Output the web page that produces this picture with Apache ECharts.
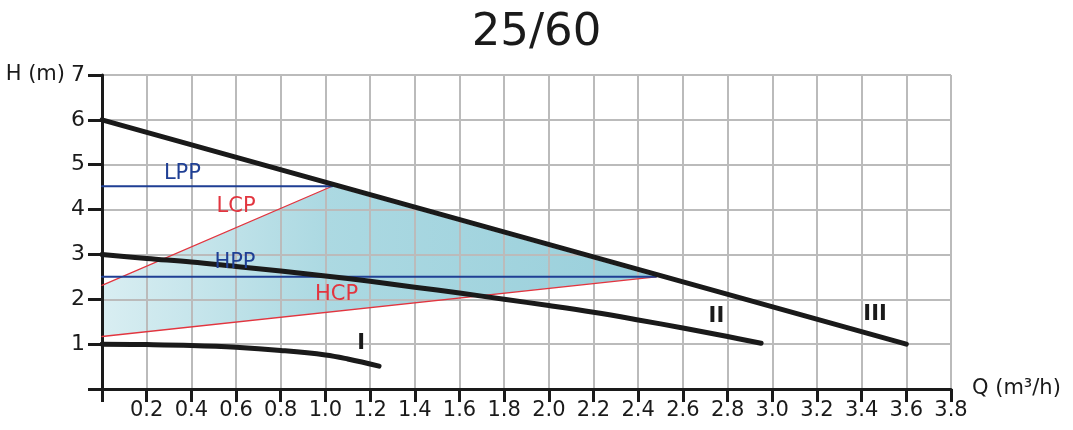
<!DOCTYPE html>
<html>
<head>
<meta charset="utf-8">
<script src="https://cdn.jsdelivr.net/npm/echarts@6/dist/echarts.min.js"></script>
<style>
html,body{margin:0;padding:0;background:#fff;}
#c{width:1073px;height:430px;}
</style>
</head>
<body>
<div id="c"></div>
<script>
// ---- data ----
var titleText = '25/60';
var xName = 'Q (m³/h)';
var yName = 'H (m)';
var curveI = [[0,1.0],[0.2,0.99],[0.4,0.97],[0.6,0.93],[0.8,0.86],[1.0,0.76],[1.1,0.67],[1.24,0.51]];
var curveII = [[0,3.0],[0.2,2.91],[0.4,2.83],[0.6,2.73],[0.8,2.63],[1.0,2.52],[1.2,2.40],[1.4,2.27],[1.6,2.14],[1.8,2.0],[2.0,1.86],[2.2,1.71],[2.4,1.54],[2.6,1.36],[2.8,1.17],[2.95,1.02]];
var curveIII = [[0,6.0],[3.6,1.0]];
var lineLPP = [[0,4.52],[1.03,4.52]];
var lineHPP = [[0,2.5],[2.48,2.5]];
var lineLCP = [[0,2.31],[1.03,4.52]];
var lineHCP = [[0,1.17],[2.48,2.5]];
var fillPolygon = [[0,1.17],[0,2.31],[1.03,4.52],[2.48,2.5]];
var textLabels = [
  {t:'LPP', x:0.36, y:4.81, c:'#1f3f94', b:false},
  {t:'LCP', x:0.60, y:4.06, c:'#e2353f', b:false},
  {t:'HPP', x:0.595, y:2.81, c:'#1f3f94', b:false},
  {t:'HCP', x:1.05, y:2.10, c:'#e2353f', b:false},
  {t:'I', x:1.16, y:1.02, c:'#1a1a1a', b:true},
  {t:'II', x:2.75, y:1.61, c:'#1a1a1a', b:true},
  {t:'III', x:3.46, y:1.67, c:'#1a1a1a', b:true}
];

var FONT = 'DejaVu Sans';
var chart = echarts.init(document.getElementById('c'));

function lineSeries(data, color, width, z, smooth) {
  return {
    type: 'line', data: data, showSymbol: false, symbol: 'none', smooth: smooth || false,
    lineStyle: {color: color, width: width, cap: 'round', join: 'round'},
    z: z, silent: true, animation: false
  };
}

var series = [
  {
    type: 'custom', z: 1, silent: true, animation: false,
    data: [[0,0]],
    renderItem: function (params, api) {
      var pts = fillPolygon.map(function (p) { return api.coord(p); });
      return {
        type: 'polygon',
        shape: {points: pts},
        style: {
          fill: new echarts.graphic.LinearGradient(0, 0, 1, 0, [
            {offset: 0, color: '#d9eef2'},
            {offset: 0.4, color: '#acd9e2'},
            {offset: 1, color: '#99cfdb'}
          ])
        }
      };
    }
  },
  lineSeries(lineHCP, '#e2353f', 1.3, 4),
  lineSeries(lineLCP, '#e2353f', 1.3, 4),
  lineSeries(lineHPP, '#1f3f94', 2, 4),
  lineSeries(lineLPP, '#1f3f94', 2, 4),
  lineSeries(curveI, '#1a1a1a', 5, 6, 0.4),
  lineSeries(curveII, '#1a1a1a', 5, 6, 0.4),
  lineSeries(curveIII, '#1a1a1a', 5, 6),
  {
    type: 'scatter', symbolSize: 0, z: 7, silent: true, animation: false,
    itemStyle: {opacity: 1},
    data: textLabels.map(function (d) {
      return {value: [d.x, d.y], name: d.t,
        label: {show: true, position: 'inside', formatter: d.t, color: d.c, opacity: 1,
          fontSize: 21, fontWeight: d.b ? 'bold' : 'normal', fontFamily: FONT}};
    })
  }
];

chart.setOption({
  animation: false,
  textStyle: {fontFamily: FONT},
  title: {
    text: titleText, left: 'center', top: 6,
    textStyle: {fontSize: 45, fontWeight: 'normal', color: '#1a1a1a', fontFamily: FONT}
  },
  grid: {left: 102, right: 122, top: 75, bottom: 41, containLabel: false},
  xAxis: {
    type: 'value', min: 0, max: 3.8, interval: 0.2, z: 2,
    name: xName, nameLocation: 'end', nameGap: 21,
    nameTextStyle: {fontSize: 21, color: '#1a1a1a', fontFamily: FONT, verticalAlign: 'middle', padding: [46, 0, 0, 0]},
    axisLine: {show: true, lineStyle: {color: '#1a1a1a', width: 3}},
    axisTick: {show: true, length: 13, lineStyle: {color: '#1a1a1a', width: 3}},
    axisLabel: {
      fontSize: 21, color: '#1a1a1a', margin: 11, fontFamily: FONT,
      formatter: function (v) { return v === 0 ? '' : v.toFixed(1); }
    },
    splitLine: {show: true, lineStyle: {color: '#bbbbbb', width: 2}}
  },
  yAxis: {
    type: 'value', min: 0, max: 7, interval: 1, z: 2,
    name: yName, nameLocation: 'end', nameGap: 0,
    nameTextStyle: {fontSize: 21, color: '#1a1a1a', fontFamily: FONT, align: 'right', verticalAlign: 'middle', padding: [0, 37, 0, 0]},
    axisLine: {show: true, lineStyle: {color: '#1a1a1a', width: 3}},
    axisTick: {show: true, length: 14, lineStyle: {color: '#1a1a1a', width: 3}},
    axisLabel: {
      fontSize: 22, color: '#1a1a1a', margin: 17, fontFamily: FONT,
      formatter: function (v) { return v === 0 ? '' : String(v); }
    },
    splitLine: {show: true, lineStyle: {color: '#bbbbbb', width: 2}}
  },
  series: series
});
</script>
</body>
</html>
